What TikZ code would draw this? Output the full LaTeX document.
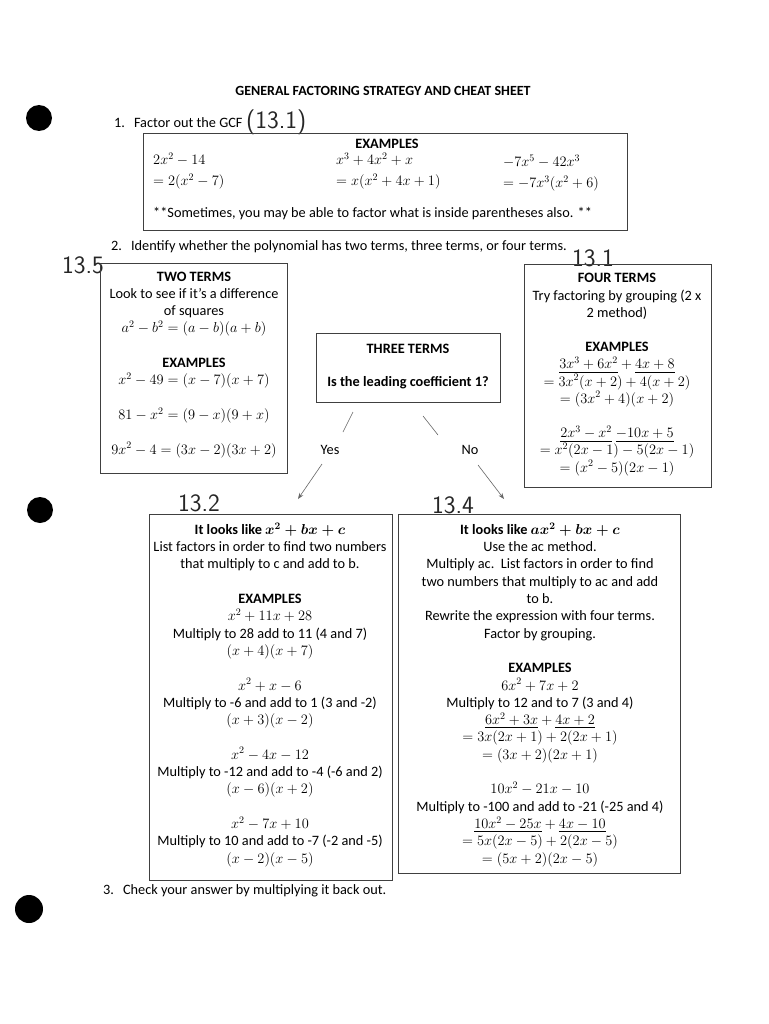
\documentclass[tikz,border=0pt]{standalone}
\usepackage{amsmath}
\usepackage{fontspec}
\setmainfont{Carlito}
\usetikzlibrary{arrows.meta}
\begin{document}
\begin{tikzpicture}[x=1pt,y=-1pt,
  txt/.style={inner sep=0pt,font=\fontsize{14.3}{17.3}\selectfont},
  ctxt/.style={txt,align=center,anchor=base},
  ltxt/.style={txt,align=left,anchor=base west},
  box/.style={draw=black!75,line width=0.9pt,inner sep=0pt,anchor=north west},
  hand/.style={inner sep=0pt,anchor=base west,font=\sffamily\fontsize{25}{25}\selectfont,text=black!85},
  conn/.style={draw=black!60,line width=0.6pt},
  hole/.style={fill=black}]
\useasboundingbox (0,0) rectangle (768,1024);
\fill[white] (0,0) rectangle (768,1024);
% punch holes
\fill[hole] (39,118) circle (13);
\fill[hole] (40,510) circle (13);
\fill[hole] (29,909) circle (14);
% title and steps
\node[ctxt,font=\bfseries\fontsize{14}{17}\selectfont] (title) at (383,96) {GENERAL FACTORING STRATEGY AND CHEAT SHEET};
\node[ltxt] (s1) at (114,128) {1.\hspace{9pt}Factor out the GCF};
\node[hand] (h131a) at (246,129) {(13.1)};
\node[box,minimum width=484,minimum height=97] (b1) at (143,133) {};
\node[ctxt,font=\bfseries\fontsize{14.3}{17}\selectfont] (ex1) at (387,149) {EXAMPLES};
\node[txt,align=left,anchor=base west] (c1) at (153,186) {$2x^2-14$\\[4pt]$=2(x^2-7)$};
\node[txt,align=left,anchor=base west] (c2) at (336,186) {$x^3+4x^2+x$\\[4pt]$=x(x^2+4x+1)$};
\node[txt,align=left,anchor=base west] (c3) at (503,188) {$-7x^5-42x^3$\\[4pt]$=-7x^3(x^2+6)$};
\node[ltxt] (note) at (153,218) {**Sometimes, you may be able to factor what is inside parentheses also. **};
\node[ltxt] (s2) at (111,250) {2.\hspace{9pt}Identify whether the polynomial has two terms, three terms, or four terms.};
\node[hand] (h135) at (62,273) {13.5};
\node[hand] (h131b) at (572,266) {13.1};
% two terms
\node[box,minimum width=187,minimum height=210] (two) at (100,263) {};
\node[ctxt] (twot) at (194,454) {\textbf{TWO TERMS}\\Look to see if it’s a difference\\of squares\\$a^2-b^2=(a-b)(a+b)$\\[17.3pt]\textbf{EXAMPLES}\\$x^2-49=(x-7)(x+7)$\\[17.3pt]$81-x^2=(9-x)(9+x)$\\[17.3pt]$9x^2-4=(3x-2)(3x+2)$};
% three terms
\node[box,minimum width=184,minimum height=69] (three) at (316,333) {};
\node[ctxt,font=\bfseries\fontsize{14.3}{16.5}\selectfont] (threet) at (408,386) {THREE TERMS\\[16.5pt]Is the leading coefficient 1?};
% four terms
\node[box,minimum width=187,minimum height=223] (four) at (524,264) {};
\node[ctxt,font=\fontsize{14.3}{17.2}\selectfont] (fourt) at (617,472) {\textbf{FOUR TERMS}\\Try factoring by grouping (2 x\\2 method)\\[17.2pt]\textbf{EXAMPLES}\\$\underline{3x^3+6x^2}+\underline{4x+8}$\\$=3x^2(x+2)+4(x+2)$\\$=(3x^2+4)(x+2)$\\[17.2pt]$\underline{2x^3-x^2}\;\underline{-10x+5}$\\$=x^2(2x-1)-5(2x-1)$\\$=(x^2-5)(2x-1)$};
% connectors
\coordinate (ya) at (353,412);
\coordinate (yb) at (343,432);
\coordinate (yc) at (322,464);
\coordinate (yd) at (298,499);
\coordinate (na) at (423,416);
\coordinate (nb) at (438,435);
\coordinate (nc) at (478,465);
\coordinate (nd) at (504,499);
\node[ctxt] (yes) at (330,454) {Yes};
\node[ctxt] (no) at (470,454) {No};
\draw[conn] (ya) -- (yb);
\draw[conn,-{Stealth[length=6pt,width=4.5pt]}] (yc) -- (yd);
\draw[conn] (na) -- (nb);
\draw[conn,-{Stealth[length=6pt,width=4.5pt]}] (nc) -- (nd);
\node[hand] (h132) at (178,511) {13.2};
\node[hand] (h134) at (432,513) {13.4};
% box 13.2
\node[box,minimum width=243,minimum height=366] (b132) at (149,514) {};
\node[ctxt] (t132) at (270,863) {\textbf{It looks like} $\boldsymbol{x^2+bx+c}$\\List factors in order to find two numbers\\that multiply to c and add to b.\\[17.3pt]\textbf{EXAMPLES}\\$x^2+11x+28$\\Multiply to 28 add to 11 (4 and 7)\\$(x+4)(x+7)$\\[17.3pt]$x^2+x-6$\\Multiply to -6 and add to 1 (3 and -2)\\$(x+3)(x-2)$\\[17.3pt]$x^2-4x-12$\\Multiply to -12 and add to -4 (-6 and 2)\\$(x-6)(x+2)$\\[17.3pt]$x^2-7x+10$\\Multiply to 10 and add to -7 (-2 and -5)\\$(x-2)(x-5)$};
% box 13.4
\node[box,minimum width=282,minimum height=359] (b134) at (398,514) {};
\node[ctxt] (t134) at (540,863) {\textbf{It looks like} $\boldsymbol{ax^2+bx+c}$\\Use the ac method.\\Multiply ac.\ \ List factors in order to find\\two numbers that multiply to ac and add\\to b.\\Rewrite the expression with four terms.\\Factor by grouping.\\[17.3pt]\textbf{EXAMPLES}\\$6x^2+7x+2$\\Multiply to 12 and to 7 (3 and 4)\\$\underline{6x^2+3x}+\underline{4x+2}$\\$=3x(2x+1)+2(2x+1)$\\$=(3x+2)(2x+1)$\\[17.3pt]$10x^2-21x-10$\\Multiply to -100 and add to -21 (-25 and 4)\\$\underline{10x^2-25x}+\underline{4x-10}$\\$=5x(2x-5)+2(2x-5)$\\$=(5x+2)(2x-5)$};
\node[ltxt] (s3) at (103,894) {3.\hspace{9pt}Check your answer by multiplying it back out.};
\end{tikzpicture}
\end{document}
